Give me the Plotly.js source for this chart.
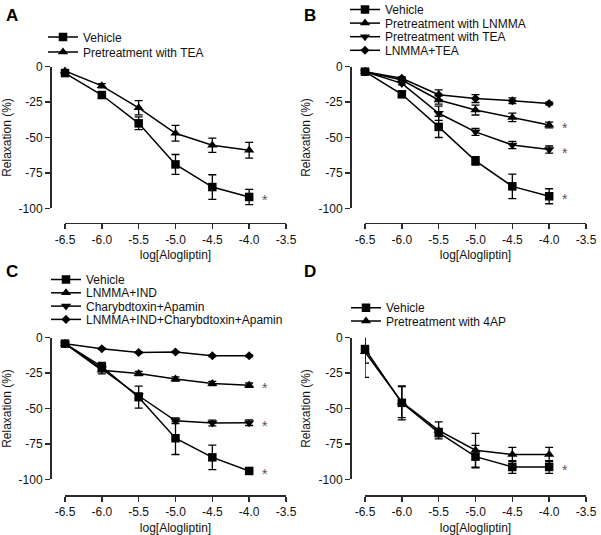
<!DOCTYPE html>
<html>
<head>
<meta charset="utf-8">
<script src="https://cdn.plot.ly/plotly-3.0.1.min.js"></script>
<style>html,body{margin:0;padding:0;background:#fff;}#chart{width:601px;height:535px;}</style>
</head>
<body>
<div id="chart"></div>
<script>
// ---------- DATA ----------
const xVals = [-6.5, -6.0, -5.5, -5.0, -4.5, -4.0];
const xTickVals = [-6.5, -6.0, -5.5, -5.0, -4.5, -4.0, -3.5];
const xTickText = ['-6.5', '-6.0', '-5.5', '-5.0', '-4.5', '-4.0', '-3.5'];
const yTickVals = [0, -25, -50, -75, -100];
const yTickText = ['0', '-25', '-50', '-75', '-100'];

// Panel A
const aNames = ['Vehicle', 'Pretreatment with TEA'];
const aVehicle = [-4.5, -20, -40, -69, -85, -92];
const aVehicleErr = [1, 2, 4.5, 7, 8.7, 5.4];
const aTEA = [-3, -13.5, -29, -47, -55.5, -59];
const aTEAErr = [1, 1.5, 5, 5.5, 5, 5.5];
const aSig = [true, false];

// Panel B
const bNames = ['Vehicle', 'Pretreatment with LNMMA', 'Pretreatment with TEA', 'LNMMA+TEA'];
const bVehicle = [-3.5, -19.5, -42.5, -66.5, -84.5, -91.5];
const bVehicleErr = [1, 1.5, 7.5, 3, 8.6, 5.3];
const bLNMMA = [-3.5, -9.4, -23.5, -30.6, -35.8, -41.2];
const bLNMMAErr = [1, 1, 3, 3.5, 3, 2];
const bTEA = [-3.5, -11.8, -32.9, -46, -55.3, -58.5];
const bTEAErr = [1, 1, 5, 2.5, 2.5, 2.5];
const bBoth = [-3.5, -8.2, -19.8, -22.5, -24, -26];
const bBothErr = [1, 1, 3.5, 2.8, 2, 1];
const bSig = [true, true, true, false];

// Panel C
const cNames = ['Vehicle', 'LNMMA+IND', 'Charybdtoxin+Apamin', 'LNMMA+IND+Charybdtoxin+Apamin'];
const cVehicle = [-4.2, -20.5, -42, -71, -84.5, -94.1];
const cVehicleErr = [1, 3, 7.8, 11.5, 8.6, 1];
const cLI = [-4.2, -23, -25.3, -29.2, -32.3, -33.5];
const cLIErr = [1, 2.5, 1.5, 1.5, 1.5, 1.5];
const cCA = [-4.2, -22, -41, -58.7, -60.2, -60];
const cCAErr = [1, 2, 2, 2, 2, 2];
const cAll = [-4.2, -7.8, -10.4, -10.1, -12.8, -12.8];
const cAllErr = [0.5, 0.5, 0.5, 0.5, 0.5, 0.5];
const cSig = [true, true, true, false];

// Panel D
const dNames = ['Vehicle', 'Pretreatment with 4AP'];
const dVehicle = [-8, -46, -67, -84, -91.3, -91.3];
const dVehicleErr = [10, 12, 3, 8, 4.5, 4.5];
const d4AP = [-10, -45.5, -65.5, -79.5, -82.5, -82.5];
const d4APErr = [18, 11, 6, 12, 5, 5];
const dSig = [true, false];

const panelLetters = ['A', 'B', 'C', 'D'];
const xTitle = 'log[Alogliptin]';
const yTitle = 'Relaxation (%)';

// ---------- LAYOUT / STYLE ----------
const W = 601, H = 535;
const FONT = 'Liberation Sans, Arial, sans-serif';
const INK = '#111';
const symbols = ['square', 'triangle-up', 'triangle-down', 'diamond'];
const sizes = [8.5, 9, 9, 7];

// pixel geometry of each panel: [yAxisX, xStart, xEnd, yTop(0), yBottom(-100), xAxisY]
const geo = [
  [50, 65, 286, 66.7, 208.3, 222.7],
  [350, 365, 586, 66.7, 208.3, 222.7],
  [50, 65, 286, 337.7, 479.3, 495.3],
  [350, 365, 586, 337.7, 479.3, 495.3]
];
// legend: [text-left x px, first row center y px, row spacing px]
const legGeo = [
  [83, 37, 15],
  [385, 9.5, 13.6],
  [86, 279.5, 13.3],
  [386, 307.7, 13.3]
];
const letterPos = [[4, 4], [302, 4], [4, 260], [302, 260]];

const panels = [
  {names: aNames, ys: [aVehicle, aTEA], errs: [aVehicleErr, aTEAErr], sig: aSig, sym: [0, 1]},
  {names: bNames, ys: [bVehicle, bLNMMA, bTEA, bBoth], errs: [bVehicleErr, bLNMMAErr, bTEAErr, bBothErr], sig: bSig, sym: [0, 1, 2, 3]},
  {names: cNames, ys: [cVehicle, cLI, cCA, cAll], errs: [cVehicleErr, cLIErr, cCAErr, cAllErr], sig: cSig, sym: [0, 1, 2, 3]},
  {names: dNames, ys: [dVehicle, d4AP], errs: [dVehicleErr, d4APErr], sig: dSig, sym: [0, 1]}
];

const traces = [];
const annotations = [];
const layout = {
  width: W, height: H,
  margin: {l: 0, r: 0, t: 0, b: 0, autoexpand: false},
  paper_bgcolor: '#fff', plot_bgcolor: 'rgba(0,0,0,0)',
  font: {family: FONT, size: 12, color: INK},
  showlegend: true
};

panels.forEach((p, k) => {
  const sfx = k === 0 ? '' : String(k + 1);
  const legId = 'legend' + sfx;
  const g = geo[k];
  p.ys.forEach((ys, i) => {
    traces.push({
      type: 'scatter', mode: 'lines+markers',
      x: xVals, y: ys, name: p.names[i],
      xaxis: 'x' + sfx, yaxis: 'y' + sfx, legend: legId,
      cliponaxis: false,
      line: {color: '#000', width: 1.5},
      marker: {symbol: symbols[p.sym[i]], size: sizes[p.sym[i]], color: '#000'},
      error_y: {type: 'data', array: p.errs[i], visible: true, color: '#000', thickness: 1.3, width: 4},
      hoverinfo: 'x+y+name'
    });
    if (p.sig[i]) {
      annotations.push({
        xref: 'x' + sfx, yref: 'y' + sfx,
        x: xVals[xVals.length - 1] + 0.22, y: ys[ys.length - 1],
        text: '*', showarrow: false, yshift: -3,
        font: {family: FONT, size: 14, color: '#555'}
      });
    }
  });
  layout['xaxis' + sfx] = {
    domain: [g[1] / W, g[2] / W], anchor: 'free', position: 1 - g[5] / H,
    range: [-6.5, -3.5], tickmode: 'array', tickvals: xTickVals, ticktext: xTickText,
    showgrid: false, zeroline: false, showline: true, linecolor: '#2a2a2a', linewidth: 1.6,
    ticks: 'outside', ticklen: 5, tickwidth: 1.5, tickcolor: '#2a2a2a',
    tickfont: {family: FONT, size: 12, color: INK},
    automargin: true,
    title: {text: xTitle, font: {family: FONT, size: 12, color: INK}, standoff: 5},
    fixedrange: true
  };
  layout['yaxis' + sfx] = {
    domain: [1 - g[4] / H, 1 - g[3] / H], anchor: 'free', position: g[0] / W,
    range: [-100, 0], tickmode: 'array', tickvals: yTickVals, ticktext: yTickText,
    showgrid: false, zeroline: false, showline: true, linecolor: '#2a2a2a', linewidth: 1.6,
    ticks: 'outside', ticklen: 5, tickwidth: 1.5, tickcolor: '#2a2a2a',
    tickfont: {family: FONT, size: 12, color: INK},
    automargin: true,
    title: {text: yTitle, font: {family: FONT, size: 12, color: INK}, standoff: 4},
    fixedrange: true
  };
  const lg = legGeo[k];
  layout[legId] = {
    x: (lg[0] - 40) / W, xanchor: 'left',
    y: 1 - (lg[1] - 14.5) / H, yanchor: 'top',
    bgcolor: 'rgba(0,0,0,0)', borderwidth: 0,
    font: {family: FONT, size: 12, color: INK},
    traceorder: 'normal', itemclick: false, itemdoubleclick: false
  };
  annotations.push({
    xref: 'paper', yref: 'paper', x: letterPos[k][0] / W, y: 1 - letterPos[k][1] / H,
    xanchor: 'left', yanchor: 'top', showarrow: false,
    text: '<b>' + panelLetters[k] + '</b>',
    font: {family: FONT, size: 17, color: '#000'}
  });
});
layout.annotations = annotations;

function tightenLegends(gd) {
  legGeo.forEach((lg, k) => {
    const id = k === 0 ? 'legend' : 'legend' + (k + 1);
    const leg = gd.querySelector('.infolayer > g.' + id);
    if (!leg) return;
    const items = leg.querySelectorAll('g.traces');
    let y0 = null, x0 = 0;
    items.forEach((it, i) => {
      const t = it.getAttribute('transform') || '';
      const m = t.match(/translate\(\s*([-\d.e]+)[ ,]+([-\d.e]+)\s*\)/);
      if (!m) return;
      if (y0 === null) { x0 = parseFloat(m[1]); y0 = parseFloat(m[2]); }
      it.setAttribute('transform', 'translate(' + x0 + ',' + (y0 + i * lg[2]) + ')');
    });
  });
}

const gd = document.getElementById('chart');
Plotly.newPlot(gd, traces, layout, {displayModeBar: false, staticPlot: true}).then(() => tightenLegends(gd));
</script>
</body>
</html>
